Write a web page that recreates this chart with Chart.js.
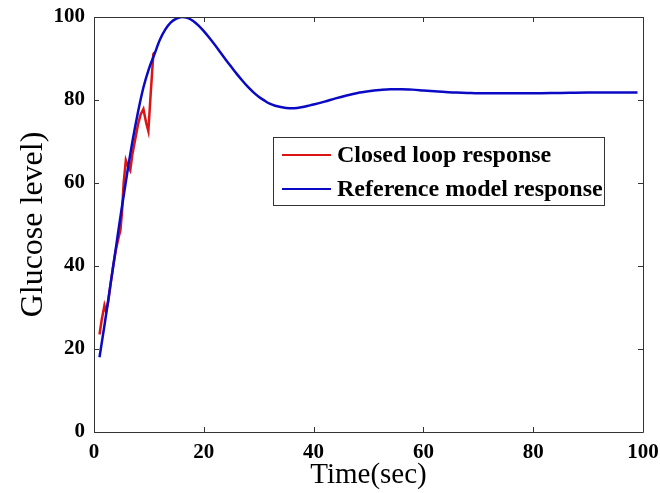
<!DOCTYPE html>
<html>
<head>
<meta charset="utf-8">
<script src="https://cdn.jsdelivr.net/npm/chart.js@4.4.0/dist/chart.umd.min.js"></script>
<style>
  html, body { margin: 0; padding: 0; background: #ffffff; }
  #wrap { width: 660px; height: 493px; }
</style>
</head>
<body>
<div id="wrap"><canvas id="c" width="660" height="493"></canvas></div>
<script>
// ---- Data ----
const xTicks = [0, 20, 40, 60, 80, 100];
const yTicks = [0, 20, 40, 60, 80, 100];

const seriesLabels = ['Closed loop response', 'Reference model response'];

// Reference model response (blue)
const refTime = [1, 2, 3, 4, 5, 6, 7, 8, 9, 10, 11, 12, 13, 14, 15, 16, 17, 18, 19, 20,
  21, 22, 23, 24, 25, 26, 27, 28, 29, 30, 31, 32, 33, 34, 35, 36, 37, 38, 39, 40,
  42, 44, 46, 48, 50, 52, 54, 56, 58, 60, 62, 64, 66, 68, 70, 75, 80, 85, 90, 95, 99];
const refGlucose = [18, 26.5, 35.5, 44.5, 53.5, 62, 70, 77, 83, 87.5, 91, 94.5, 97, 98.7, 99.6, 100, 99.8, 99.1, 98, 96.6,
  95, 93.3, 91.5, 89.7, 88, 86.3, 84.7, 83.2, 81.9, 80.8, 79.9, 79.1, 78.6, 78.3, 78.1, 78.0, 78.1, 78.3, 78.6, 78.9,
  79.6, 80.4, 81.1, 81.7, 82.1, 82.4, 82.6, 82.6, 82.5, 82.3, 82.1, 81.9, 81.8, 81.7, 81.6, 81.6, 81.6, 81.7, 81.8, 81.8, 81.8];

// Closed loop response (red)
const loopTime = [1.0, 1.4, 1.9, 2.2, 2.6, 3.0, 3.5, 4.0, 4.5, 4.8, 5.1, 5.4, 5.8, 6.2, 6.6, 7.0, 7.5, 8.0, 8.5, 9.0, 9.5, 9.9, 10.3, 10.8, 11.0];
const loopGlucose = [23.5, 27, 30.5, 29, 31.5, 35.5, 40, 44, 47, 48.5, 53, 60, 65.5, 64, 63, 67, 70.5, 74, 76.5, 77.8, 74.5, 72.5, 81, 91, 91.5];

const toPoints = (xs, ys) => xs.map((x, i) => ({ x: x, y: ys[i] }));

const RED = '#dd1414';
const BLUE = '#0a0ac4';
const SERIF = "'Liberation Serif', 'Times New Roman', serif";

// Frame with inward ticks + inside legend (MATLAB style)
const matlabFrame = {
  id: 'matlabFrame',
  afterDatasetsDraw(chart) {
    const ctx = chart.ctx;
    const a = chart.chartArea;
    const xs = chart.scales.x, ys = chart.scales.y;
    const tl = 5;
    ctx.save();
    ctx.strokeStyle = '#333333';
    ctx.lineWidth = 1;
    ctx.beginPath();
    ctx.rect(Math.round(a.left) + 0.5, Math.round(a.top) + 0.5,
             Math.round(a.right - a.left), Math.round(a.bottom - a.top));
    ctx.stroke();
    ctx.beginPath();
    xTicks.forEach(v => {
      const px = Math.round(xs.getPixelForValue(v)) + 0.5;
      ctx.moveTo(px, a.bottom); ctx.lineTo(px, a.bottom - tl);
      ctx.moveTo(px, a.top); ctx.lineTo(px, a.top + tl);
    });
    yTicks.forEach(v => {
      const py = Math.round(ys.getPixelForValue(v)) + 0.5;
      ctx.moveTo(a.left, py); ctx.lineTo(a.left + tl, py);
      ctx.moveTo(a.right, py); ctx.lineTo(a.right - tl, py);
    });
    ctx.stroke();

    // legend
    const bx = 273.5, by = 137.5, bw = 331, bh = 68;
    ctx.fillStyle = '#ffffff';
    ctx.fillRect(bx, by, bw, bh);
    ctx.strokeStyle = '#333333';
    ctx.strokeRect(bx, by, bw, bh);
    const rows = [
      { label: chart.data.datasets[0].label, color: chart.data.datasets[0].borderColor, y: 155 },
      { label: chart.data.datasets[1].label, color: chart.data.datasets[1].borderColor, y: 189 }
    ];
    ctx.font = "bold 24px " + SERIF;
    ctx.textBaseline = 'middle';
    ctx.textAlign = 'left';
    rows.forEach(r => {
      ctx.strokeStyle = r.color;
      ctx.lineWidth = 2;
      ctx.beginPath();
      ctx.moveTo(282, r.y); ctx.lineTo(331, r.y);
      ctx.stroke();
      ctx.fillStyle = '#000000';
      ctx.fillText(r.label, 337, r.y + 1);
    });
    ctx.restore();
  }
};

new Chart(document.getElementById('c'), {
  type: 'scatter',
  data: {
    datasets: [
      {
        label: seriesLabels[0],
        data: toPoints(loopTime, loopGlucose),
        showLine: true,
        borderColor: RED,
        backgroundColor: RED,
        borderWidth: 2.5,
        pointRadius: 0,
        tension: 0,
        order: 1
      },
      {
        label: seriesLabels[1],
        data: toPoints(refTime, refGlucose),
        showLine: true,
        borderColor: BLUE,
        backgroundColor: BLUE,
        borderWidth: 2.5,
        pointRadius: 0,
        cubicInterpolationMode: 'monotone',
        order: 0
      }
    ]
  },
  options: {
    responsive: false,
    animation: false,
    events: [],
    layout: { padding: { left: 0, top: 17, right: 17, bottom: 0 } },
    plugins: { legend: { display: false }, tooltip: { enabled: false } },
    scales: {
      x: {
        type: 'linear',
        min: 0, max: 100,
        afterFit: s => { s.height = 61; s.paddingLeft = 0; s.paddingRight = 0; },
        afterBuildTicks: s => { s.ticks = xTicks.map(v => ({ value: v })); },
        grid: { display: false, drawTicks: false },
        border: { display: false },
        ticks: {
          padding: 8,
          color: '#000000',
          font: { family: SERIF, size: 21, weight: 'bold' }
        },
        title: {
          display: true,
          text: 'Time(sec)',
          color: '#000000',
          font: { family: SERIF, size: 29 },
          padding: { top: 0, bottom: 0 }
        }
      },
      y: {
        type: 'linear',
        min: 0, max: 100,
        afterFit: s => { s.width = 94; s.paddingTop = 0; s.paddingBottom = 0; },
        afterBuildTicks: s => { s.ticks = yTicks.map(v => ({ value: v })); },
        grid: { display: false, drawTicks: false },
        border: { display: false },
        ticks: {
          padding: 9,
          color: '#000000',
          font: { family: SERIF, size: 21, weight: 'bold' }
        },
        title: {
          display: true,
          text: 'Glucose level)',
          color: '#000000',
          font: { family: SERIF, size: 32 },
          padding: { top: 14, bottom: 0 }
        }
      }
    }
  },
  plugins: [matlabFrame]
});
</script>
</body>
</html>
